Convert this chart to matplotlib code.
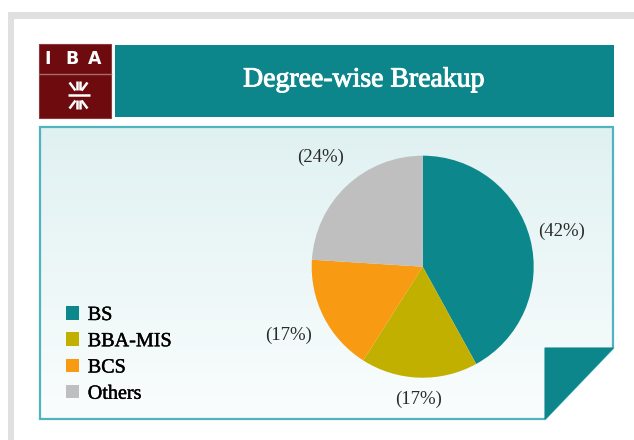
import numpy as np
import matplotlib
matplotlib.use("Agg")
import matplotlib.pyplot as plt
from matplotlib.patches import Rectangle, Polygon
import matplotlib.patheffects as pe

# ---- data ----
categories = ["BS", "BBA-MIS", "BCS", "Others"]
shares = [42, 17, 17, 24]
colors = ["#0c878c", "#c2b000", "#f89a12", "#bfbfbf"]
title = "Degree-wise Breakup"
label_dist = [1.29, 1.20, 1.36, 1.35]

W, H = 634, 440
fig = plt.figure(figsize=(W / 100, H / 100), dpi=100)
fig.patch.set_facecolor("white")

bg = fig.add_axes([0, 0, 1, 1])
bg.set_xlim(0, W)
bg.set_ylim(H, 0)
bg.axis("off")

# outer gray frame
bg.add_patch(Rectangle((8, 12), W - 8, 7, color="#e0e0e0", lw=0))
bg.add_patch(Rectangle((8, 12), 6, H - 12, color="#e0e0e0", lw=0))

# logo
logo_red = "#6d0b0e"
bg.add_patch(Rectangle((39, 44), 72, 74, facecolor=logo_red, edgecolor="#8c3a3d", lw=0.8))
bg.plot([39, 111], [74.5, 74.5], color="#a86a6c", lw=1.0)
for ch, xc in zip("IBA", [47.8, 71.7, 95.0]):
    bg.text(xc, 58.5, ch, color="white", fontsize=12.5, fontweight="bold",
            family="DejaVu Sans", ha="center", va="center")
# emblem: converging arrows
cx, cy = 78.5, 95.5
segs = [((-1.5, -14), (-1.5, -5)), ((1.5, -14), (1.5, -5)),
        ((-9, -13), (-3, -5)), ((9, -13), (3, -5)),
        ((-1.5, 14), (-1.5, 5)), ((1.5, 14), (1.5, 5)),
        ((-9, 13), (-3, 5)), ((9, 13), (3, 5)),
        ((-11, 0), (11, 0))]
for (x0, y0), (x1, y1) in segs:
    bg.plot([cx + x0, cx + x1], [cy + y0, cy + y1], color="white", lw=1.8,
            solid_capstyle="butt")

# banner
bg.add_patch(Rectangle((115, 45), 499, 72, color="#0c868b", lw=0))
bg.text(364, 80, title, color="white", fontsize=20, family="Liberation Serif",
        ha="center", va="center",
        path_effects=[pe.withStroke(linewidth=0.7, foreground="white")])

# panel with gradient
panel_pts = [(40, 127), (613, 127), (613, 348), (545, 419), (40, 419)]
panel = Polygon(panel_pts, closed=True, facecolor="none", edgecolor="#4fb4c0", lw=1.6, zorder=3)
grad = np.linspace(0, 1, 256)[:, None]
c_top = np.array([0xe0, 0xf1, 0xf2]) / 255
c_bot = np.array([0xfa, 0xfd, 0xfd]) / 255
img = c_top[None, None, :] * (1 - grad[:, :, None]) + c_bot[None, None, :] * grad[:, :, None]
im = bg.imshow(img, extent=[40, 613, 419, 127], aspect="auto", zorder=1, interpolation="bilinear")
clip = Polygon(panel_pts, closed=True, transform=bg.transData, facecolor="none")
im.set_clip_path(clip)
bg.add_patch(panel)
bg.add_patch(Polygon([(545, 348), (613, 348), (545, 419)], closed=True,
                     facecolor="#0c868b", edgecolor="#0c868b", lw=0.8, zorder=4))
bg.set_xlim(0, W)
bg.set_ylim(H, 0)

# pie
pcx, pcy, r = 422.7, H - 266.7, 111.0
half = 1.25 * r
pax = fig.add_axes([(pcx - half) / W, (pcy - half) / H, 2 * half / W, 2 * half / H])
wedges, _ = pax.pie(shares, colors=colors, startangle=90, counterclock=False,
                    wedgeprops=dict(linewidth=0))
pax.set_xlim(-1.25, 1.25)
pax.set_ylim(-1.25, 1.25)
pax.set_aspect("equal")
pax.axis("off")

total = sum(shares)
ang = 90.0
for v, d in zip(shares, label_dist):
    span = 360.0 * v / total
    mid = np.deg2rad(ang - span / 2)
    pax.text(d * np.cos(mid), d * np.sin(mid), f"({v}%)", ha="center", va="center",
             fontsize=13.5, family="Liberation Serif", color="#2b2b2b", clip_on=False)
    ang -= span

# legend
leg = fig.legend(wedges, categories, loc="upper left",
                 bbox_to_anchor=(66 / W, 1 - 306 / H), frameon=False,
                 prop=dict(family="Liberation Serif", size=14.5),
                 handlelength=0.66, handleheight=0.66, handletextpad=0.42,
                 labelspacing=0.36, borderpad=0, borderaxespad=0)
for t in leg.get_texts():
    t.set_path_effects([pe.withStroke(linewidth=0.3, foreground="black")])

fig.savefig("out.png", dpi=100, facecolor="white")
